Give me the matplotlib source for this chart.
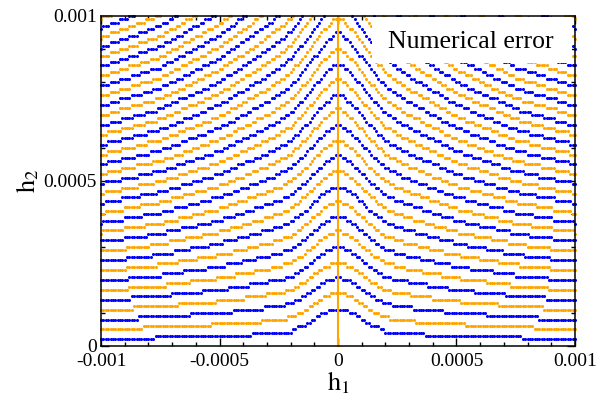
import numpy as np
import matplotlib.pyplot as plt
from matplotlib.patches import Rectangle
from matplotlib.ticker import MultipleLocator

plt.rcParams['font.family'] = ['Liberation Serif', 'DejaVu Serif']
plt.rcParams['mathtext.fontset'] = 'stix'

# scan grid (dot pitch)
h1_step = 1e-5
h2_step = 1e-5
h1_max = 0.001
h2_max = 0.001

# lowest blue band: its row (units of h2_step) against |h1| (units of 1e-4)
band0_u = [0, 0.3, 0.7, 1.0, 1.4, 2.0, 2.8, 3.6, 5.5, 7.8, 10]
band0_row = [11.5, 11.2, 9.8, 8.5, 6.5, 4.5, 3.9, 3.5, 3.0, 2.5, 2.0]

# blue-to-blue distance between bands (rows) against |h1|
period_u = [0, 2.5, 5, 7.5, 10]
period_row = [9.3, 8.0, 7.0, 6.3, 5.9]

n_rows = int(round(h2_max / h2_step))
n_cols = int(round(h1_max / h1_step))

blue_x, blue_y, orange_x, orange_y = [], [], [], []
for c in range(-n_cols, n_cols + 1):
    if c == 0:
        continue
    u = abs(c) * h1_step / 1e-4
    base = np.interp(u, band0_u, band0_row)
    half = np.interp(u, period_u, period_row) / 2
    n = 0
    while base + n * half <= n_rows + 0.5:
        r = int(round(base + n * half))
        if n % 2 == 0:
            blue_x.append(c * h1_step)
            blue_y.append(r * h2_step)
        else:
            orange_x.append(c * h1_step)
            orange_y.append(r * h2_step)
        n += 1

center_y = np.arange(n_rows + 1) * h2_step

fig = plt.figure(figsize=(5.98, 3.99), dpi=100)
ax = fig.add_axes([0.169, 0.133, 0.7925, 0.827])

ax.plot(blue_x, blue_y, 'o', color='#0000ff', ms=2.2, mew=0, clip_on=False)
ax.plot(orange_x, orange_y, 'o', color='#ffa500', ms=2.2, mew=0, clip_on=False)
ax.plot(np.zeros_like(center_y), center_y, '-', color='#ffa500', lw=1.5)

ax.add_patch(Rectangle((0.571, 0.857), 0.422, 0.139, transform=ax.transAxes,
                       facecolor='white', edgecolor='none', zorder=5))
ax.text(0.78, 0.92, 'Numerical error', transform=ax.transAxes, fontsize=18.5,
        ha='center', va='center', zorder=6)

ax.set_xlim(-0.001, 0.001)
ax.set_ylim(0, 0.001)
ax.set_xticks([-0.001, -0.0005, 0, 0.0005, 0.001])
ax.set_xticklabels(['-0.001', '-0.0005', '0', '0.0005', '0.001'])
ax.set_yticks([0, 0.0005, 0.001])
ax.set_yticklabels(['0', '0.0005', '0.001'])
ax.xaxis.set_minor_locator(MultipleLocator(0.0001))
ax.yaxis.set_minor_locator(MultipleLocator(0.0001))
ax.tick_params(which='both', direction='in', top=True, right=True,
               labelsize=14, width=1)
ax.tick_params(which='major', length=5.5)
ax.tick_params(axis='x', which='major', pad=5)
ax.tick_params(axis='y', which='major', pad=3)
ax.tick_params(which='minor', length=3)
for s in ax.spines.values():
    s.set_linewidth(1.1)
    s.set_zorder(7)

ax.set_xlabel(r'$\mathrm{h}_1$', fontsize=19, labelpad=0)
ax.set_ylabel(r'$\mathrm{h}_2$', fontsize=19, labelpad=2)

fig.savefig('out.png', dpi=100)
